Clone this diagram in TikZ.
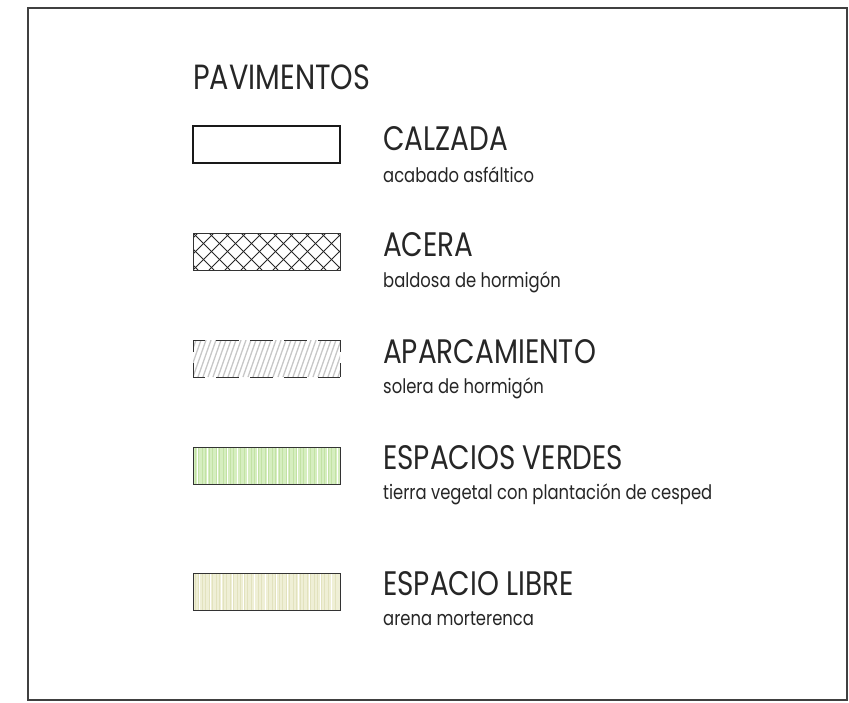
\documentclass[tikz,border=0pt]{standalone}
\usepackage{fontspec}
\setmainfont{Poppins}[FakeStretch=0.82]
\usepackage{xcolor}
\definecolor{verde}{RGB}{214,238,192}
\definecolor{verderaya}{RGB}{194,226,164}
\definecolor{arena}{RGB}{239,239,214}
\definecolor{arenaraya}{RGB}{226,226,190}
\tikzset{every node/.append style={inner sep=0pt, text=black!85}}
\tikzset{titulo/.style={anchor=base west, font=\fontsize{34}{38}\selectfont},
         subtit/.style={anchor=base west, font=\fontsize{20}{24}\selectfont},
         borde/.style={draw=black!80, line width=1pt}}

\begin{document}
\begin{tikzpicture}[x=1pt, y=-1pt]
    \useasboundingbox (0,0) rectangle (849,702);
    \draw[line width=1.3pt, black!75] (28,8) rectangle (847,700);

    \node[titulo, font=\fontsize{35}{38}\selectfont] (pav) at (193,89) {PAVIMENTOS};

    % calzada
    \draw[line width=1.4pt, black!90] (193,126) rectangle (340,163);
    \node[titulo] (calzada) at (383,150) {CALZADA};
    \node[subtit] (calzadasub) at (383,182) {acabado asfáltico};

    % acera
    \begin{scope}
        \clip (193,233) rectangle (340,270);
        \foreach \i in {145,161,...,345} {
            \draw[line width=0.9pt, black!85] (\i,270) -- ++(37,-37);
            \draw[line width=0.9pt, black!85] (\i,233) -- ++(37,37);
        }
    \end{scope}
    \draw[borde] (193,233) rectangle (340,270);
    \node[titulo] (acera) at (383,256) {ACERA};
    \node[subtit] (acerasub) at (383,287) {baldosa de hormigón};

    % aparcamiento
    \begin{scope}
        \clip (193,340) rectangle (340,377);
        \foreach \i in {178,183,...,345}
            \draw[line width=1.3pt, black!22] (\i,377) -- ++(13,-37);
    \end{scope}
    \draw[line width=1pt, black!80, dash pattern=on 23pt off 11pt, dash phase=11pt]
        (193,340) -- (340,340) (193,377) -- (340,377)
        (193,340) -- (193,377) (340,340) -- (340,377);
    \node[titulo] (aparc) at (383,363) {APARCAMIENTO};
    \node[subtit] (aparcsub) at (383,393) {solera de hormigón};

    % espacios verdes
    \fill[verde] (193,447) rectangle (340,484);
    \foreach \i in {195,198.5,...,338} \draw[verderaya, line width=0.6pt] (\i,447) -- (\i,484);
    \foreach \i in {197,207,...,338} \draw[white, line width=0.8pt] (\i,447) -- (\i,484);
    \draw[borde] (193,447) rectangle (340,484);
    \node[titulo] (verdes) at (383,469) {ESPACIOS VERDES};
    \node[subtit] (verdessub) at (383,499) {tierra vegetal con plantación de cesped};

    % espacio libre
    \fill[arena] (193,573) rectangle (340,610);
    \foreach \i in {195,198.5,...,338} \draw[arenaraya, line width=0.6pt] (\i,573) -- (\i,610);
    \foreach \i in {199,210,...,338} \draw[white, line width=0.8pt] (\i,573) -- (\i,610);
    \draw[borde] (193,573) rectangle (340,610);
    \node[titulo] (libre) at (383,595) {ESPACIO LIBRE};
    \node[subtit] (libresub) at (383,625) {arena morterenca};
\end{tikzpicture}
\end{document}
